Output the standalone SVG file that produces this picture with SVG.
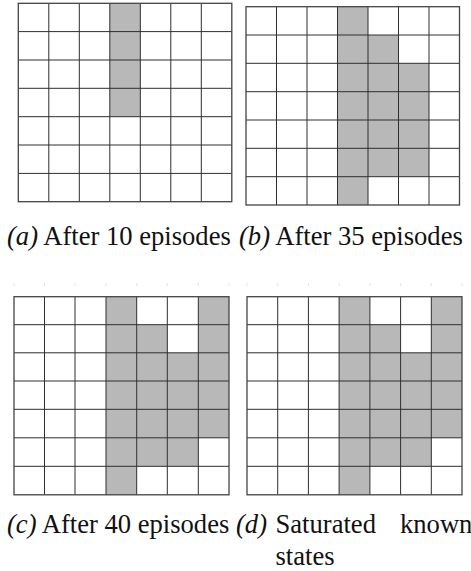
<svg xmlns="http://www.w3.org/2000/svg" width="471" height="571" viewBox="0 0 471 571">
<style>
.cell{fill:#b8b8b8;stroke:none}
.grid{stroke:#2e2e2e;stroke-width:1;fill:none}
.border{stroke:#444;stroke-width:1.3;fill:none}
.cap{font-family:"Liberation Serif","Times New Roman",serif;font-size:26.6px;fill:#111}
.lab{font-style:italic}
.tick{stroke:#e4e4e4;stroke-width:1}
</style>
<rect width="471" height="571" fill="#fff"/>
<g id="grid-a">
<rect class="cell" x="109.8" y="3.3" width="30.5" height="113.4"/>
<path class="grid" d="M48.8 3.3V201.7M79.3 3.3V201.7M109.8 3.3V201.7M140.3 3.3V201.7M170.8 3.3V201.7M201.3 3.3V201.7M18.3 31.6H231.8M18.3 60H231.8M18.3 88.3H231.8M18.3 116.7H231.8M18.3 145H231.8M18.3 173.4H231.8"/>
<rect class="border" x="18.3" y="3.3" width="213.5" height="198.4"/>
</g>
<g id="grid-b">
<rect class="cell" x="337.5" y="6.7" width="30.5" height="198.3"/>
<rect class="cell" x="368" y="35" width="30.5" height="141.7"/>
<rect class="cell" x="398.5" y="63.3" width="30.5" height="113.4"/>
<path class="grid" d="M276.5 6.7V205M307 6.7V205M337.5 6.7V205M368 6.7V205M398.5 6.7V205M429 6.7V205M246 35H459.5M246 63.3H459.5M246 91.7H459.5M246 120H459.5M246 148.3H459.5M246 176.7H459.5"/>
<rect class="border" x="246" y="6.7" width="213.5" height="198.3"/>
</g>
<g id="ticks">
<path class="tick" d="M14 283V286M44.5 283V286M75 283V286M106 283V286M136.7 283V286M167.3 283V286M198.3 283V286M229 283V286M247 283V286M277.7 283V286M308.4 283V286M339.1 283V286M369.9 283V286M400.6 283V286M431.3 283V286M462 283V286"/>
</g>
<g id="grid-c">
<rect class="cell" x="106" y="296.7" width="30.7" height="198.1"/>
<rect class="cell" x="136.7" y="324.7" width="30.6" height="141.6"/>
<rect class="cell" x="167.3" y="352.8" width="31" height="113.5"/>
<rect class="cell" x="198.3" y="296.7" width="30.7" height="141.1"/>
<path class="grid" d="M44.5 296.7V494.8M75 296.7V494.8M106 296.7V494.8M136.7 296.7V494.8M167.3 296.7V494.8M198.3 296.7V494.8M14 324.7H229M14 352.8H229M14 381H229M14 409.3H229M14 437.8H229M14 466.3H229"/>
<rect class="border" x="14" y="296.7" width="215" height="198.1"/>
</g>
<g id="grid-d">
<rect class="cell" x="339.1" y="296.7" width="30.8" height="198.1"/>
<rect class="cell" x="369.9" y="324.7" width="30.7" height="141.6"/>
<rect class="cell" x="400.6" y="352.8" width="30.7" height="113.5"/>
<rect class="cell" x="431.3" y="296.7" width="30.7" height="141.1"/>
<path class="grid" d="M277.7 296.7V494.8M308.4 296.7V494.8M339.1 296.7V494.8M369.9 296.7V494.8M400.6 296.7V494.8M431.3 296.7V494.8M247 324.7H462M247 352.8H462M247 381H462M247 409.3H462M247 437.8H462M247 466.3H462"/>
<rect class="border" x="247" y="296.7" width="215" height="198.1"/>
</g>
<g id="captions">
<text class="cap" x="7" y="245"><tspan class="lab">(a)</tspan> After 10 episodes</text>
<text class="cap" x="239" y="245"><tspan class="lab">(b)</tspan> After 35 episodes</text>
<text class="cap" x="7" y="533"><tspan class="lab">(c)</tspan> After 40 episodes</text>
<text class="cap" x="236" y="533"><tspan class="lab">(d)</tspan></text>
<text class="cap" x="275.5" y="533">Saturated</text>
<text class="cap" x="400" y="533">known</text>
<text class="cap" x="275.5" y="565">states</text>
</g>
</svg>
